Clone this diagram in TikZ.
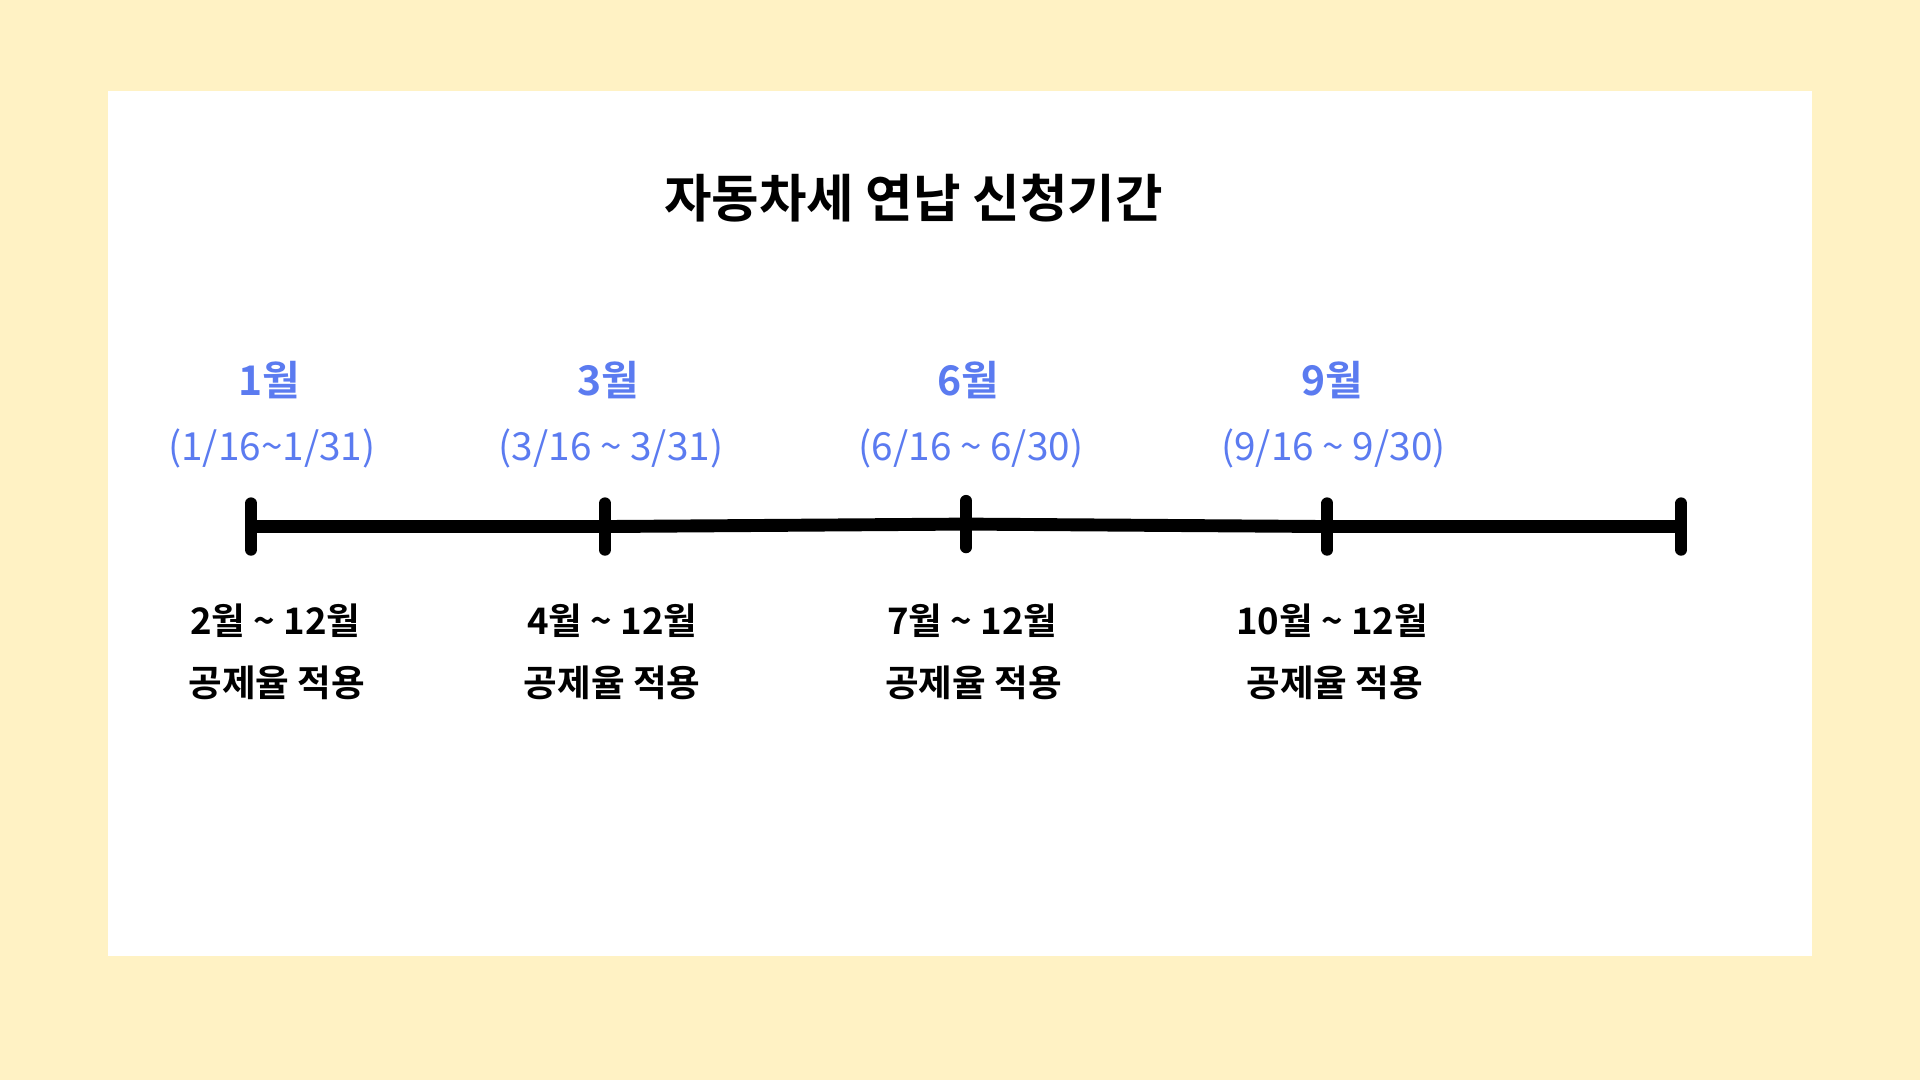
\documentclass[tikz,border=0pt]{standalone}
\usepackage{fontspec}
\setmainfont{Noto Sans CJK KR}[BoldFont={Noto Sans CJK KR Bold}]
\definecolor{bgy}{HTML}{FFF2C4}
\definecolor{blu}{HTML}{5B7BF0}
\begin{document}
\begin{tikzpicture}[x=0.02cm,y=-0.02cm,
  mon/.style={text=blu,font=\bfseries\fontsize{19}{22}\selectfont},
  dat/.style={text=blu,font=\fontsize{18}{22}\selectfont},
  bot/.style={font=\bfseries\fontsize{17}{20}\selectfont},
  tick/.style={line width=5.5pt,line cap=round}]
\fill[bgy] (0,0) rectangle (1568,882);
\useasboundingbox (0,0) rectangle (1568,882);
\fill[white] (88,74) rectangle (1480,781);
\node[font=\bfseries\fontsize{24}{28}\selectfont] (title) at (746,162) {자동차세 연납 신청기간};
\coordinate (t1) at (205,430);
\coordinate (t2) at (494,430);
\coordinate (t3) at (789,428);
\coordinate (t4) at (1084,430);
\coordinate (t5) at (1373,430);
\draw[line width=6pt] (t1) -- (t2) -- (t3) -- (t4) -- (t5);
\foreach \t in {t1,t2,t3,t4,t5}{\draw[tick] ([yshift=0.38cm]\t) -- ([yshift=-0.38cm]\t);}
\node[mon] (m1) at (220,310) {1월};
\node[mon] (m2) at (497,310) {3월};
\node[mon] (m3) at (791,310) {6월};
\node[mon] (m4) at (1088,310) {9월};
\node[dat] (d1) at (222,366) {(1/16\textasciitilde1/31)};
\node[dat] (d2) at (499,366) {(3/16 \textasciitilde{} 3/31)};
\node[dat] (d3) at (793,366) {(6/16 \textasciitilde{} 6/30)};
\node[dat] (d4) at (1089,366) {(9/16 \textasciitilde{} 9/30)};
\node[bot] (b1) at (225,507) {2월 \textasciitilde{} 12월};
\node[bot] (b2) at (500,507) {4월 \textasciitilde{} 12월};
\node[bot] (b3) at (794,507) {7월 \textasciitilde{} 12월};
\node[bot] (b4) at (1088,507) {10월 \textasciitilde{} 12월};
\node[bot] (c1) at (226,558) {공제율 적용};
\node[bot] (c2) at (500,558) {공제율 적용};
\node[bot] (c3) at (795,558) {공제율 적용};
\node[bot] (c4) at (1090,558) {공제율 적용};
\end{tikzpicture}
\end{document}
